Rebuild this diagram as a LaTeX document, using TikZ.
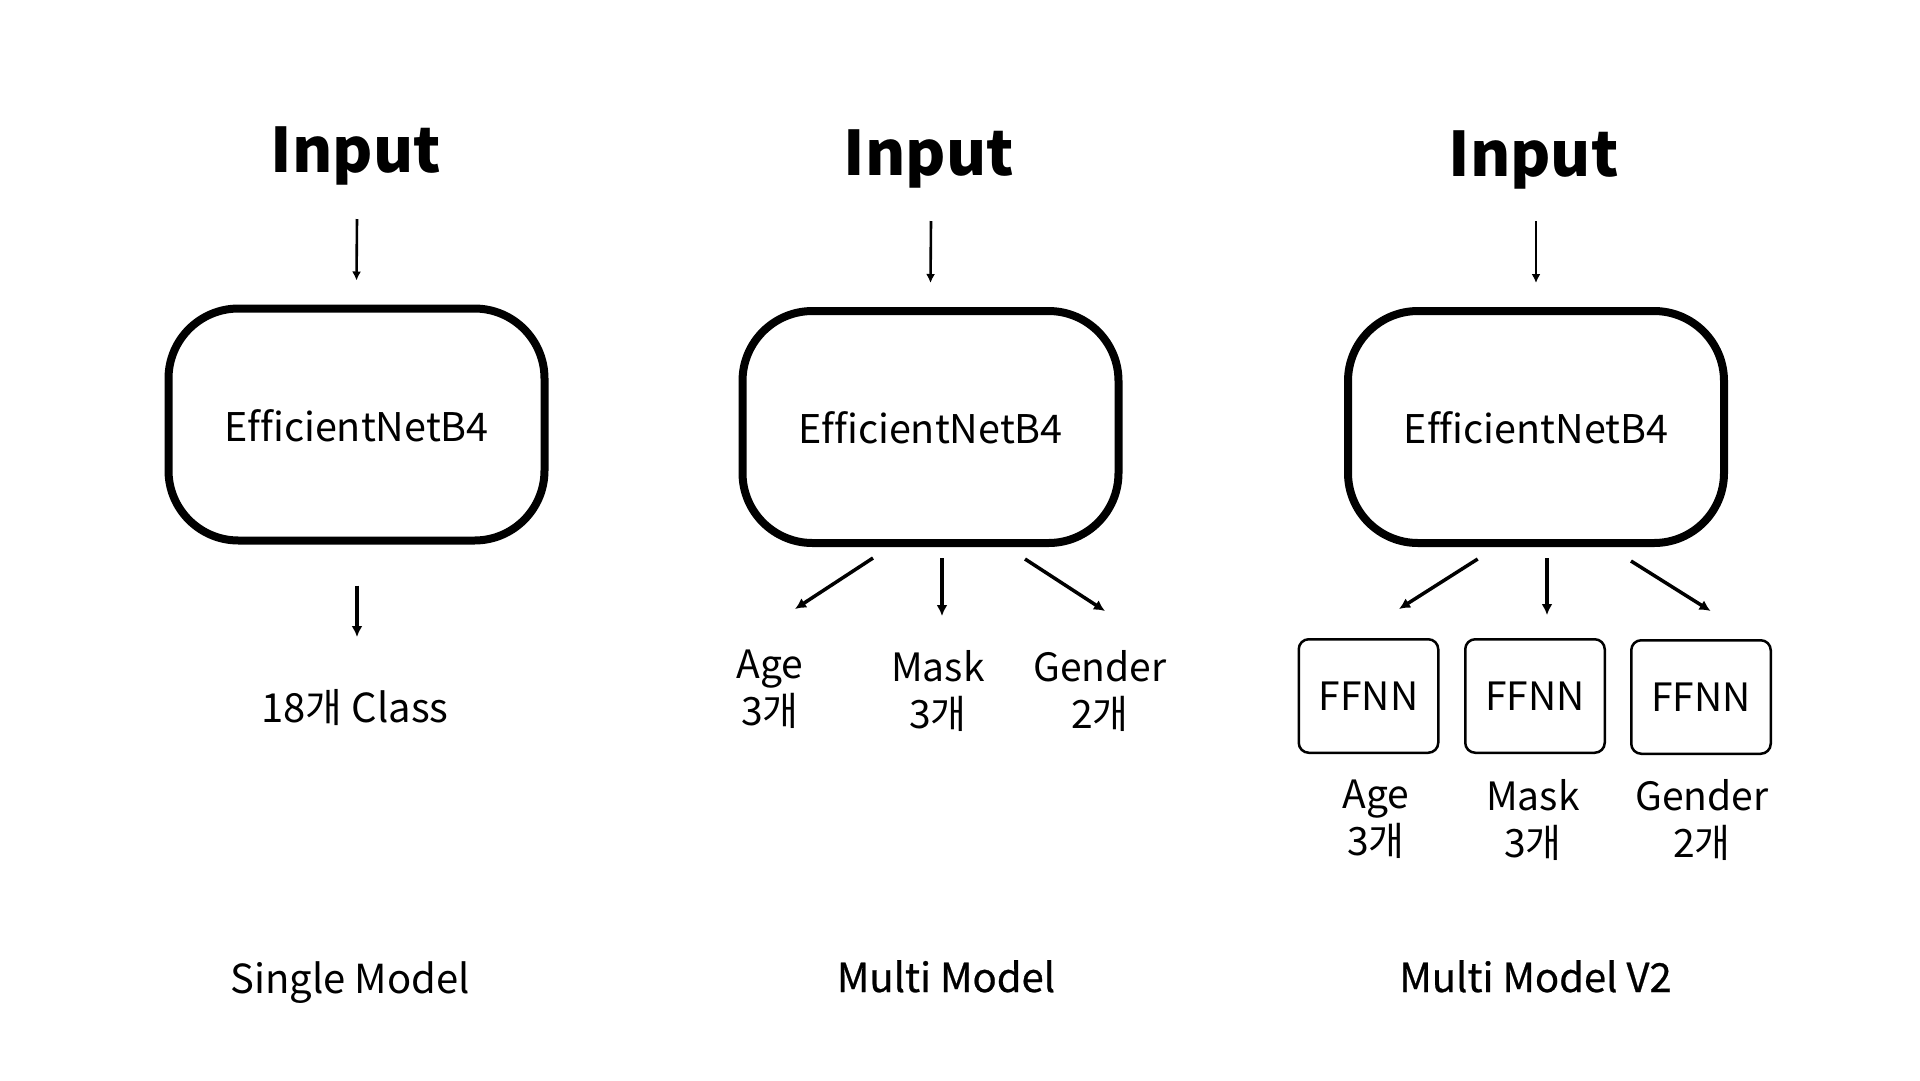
\documentclass[tikz,border=0pt]{standalone}
\usepackage{fontspec}
\setmainfont{Noto Sans CJK KR}[Ligatures=NoCommon]
\newfontfamily\medfont{Noto Sans CJK KR}[FakeBold=0.6,Ligatures=NoCommon]
\usetikzlibrary{arrows.meta,calc}
\tikzset{
  title/.style={anchor=base,inner sep=0pt,font=\bfseries\fontsize{61.5}{74}\selectfont},
  netbox/.style={draw,line width=8pt,rounded corners=70pt,minimum width=376pt,minimum height=232pt,
    inner sep=0pt,text height=33pt,text depth=0pt,font=\fontsize{39.5}{47}\selectfont},
  ffnnbox/.style={draw,line width=2.5pt,rounded corners=10pt,minimum width=139.5pt,minimum height=113.5pt,
    inner sep=0pt,text height=29pt,text depth=0pt,font=\fontsize{39}{47}\selectfont},
  lbl/.style={anchor=base,inner sep=0pt,align=center,font=\fontsize{39}{47}\selectfont},
  clslbl/.style={anchor=base,inner sep=0pt,font=\fontsize{40}{48}\selectfont},
  bottomlbl/.style={anchor=base,inner sep=0pt,font=\fontsize{40}{48}\selectfont},
  bottommed/.style={anchor=base,inner sep=0pt,font=\medfont\fontsize{40}{48}\selectfont},
  thinarr/.style={line width=2.6pt,-{Latex[length=9pt,width=9pt]}},
  thickarr/.style={line width=3.5pt,-{Latex[length=11pt,width=11pt]}}
}
\begin{document}
\begin{tikzpicture}[x=1pt,y=-1pt]
\useasboundingbox[fill=white] (0,0) rectangle (1920,1080);

% ---------- Single Model ----------
\node[title] (in1) at (356,172) {Input};
\node[netbox] (box1) at (356.5,424.5) {EfficientNetB4};
\node[clslbl] (cls) at (355,722) {18개 Class};
\node[bottomlbl] (m1) at (350,993) {Single Model};
\draw[thinarr] ($(in1.base)+(1,47)$) -- ($(box1.north)+(0,-24)$);
\draw[thickarr] ($(box1.south)+(0.5,41)$) -- ($(cls.base)+(2,-85)$);

% ---------- Multi Model ----------
\node[title] (in2) at (929,175) {Input};
\node[netbox] (box2) at (930.5,427) {EfficientNetB4};
\node[lbl] (age2) at (770,725) {Age\\3개};
\node[lbl] (mask2) at (938,728) {Mask\\3개};
\node[lbl] (gen2) at (1100,728) {Gender\\2개};
\node[bottommed] (m2) at (946,992) {Multi Model};
\draw[thinarr] ($(in2.base)+(2,46)$) -- ($(box2.north)+(0,-24)$);
\draw[thickarr] ($(box2.south)+(-57.5,11)$) -- ($(age2.base)+(25,-116)$);
\draw[thickarr] ($(box2.south)+(11.5,11)$) -- ($(mask2.base)+(4,-112)$);
\draw[thickarr] ($(box2.south)+(94.5,12)$) -- ($(gen2.base)+(5,-117)$);

% ---------- Multi Model V2 ----------
\node[title] (in3) at (1533.5,176) {Input};
\node[netbox] (box3) at (1536,427) {EfficientNetB4};
\node[ffnnbox] (f1) at (1368.5,696) {FFNN};
\node[ffnnbox] (f2) at (1535,696) {FFNN};
\node[ffnnbox] (f3) at (1701,697) {FFNN};
\node[lbl] (age3) at (1376,855) {Age\\3개};
\node[lbl] (mask3) at (1533,857) {Mask\\3개};
\node[lbl] (gen3) at (1702,857) {Gender\\2개};
\node[bottommed] (m3) at (1535.5,992) {Multi Model V2};
\draw[thinarr] ($(in3.base)+(2.5,45)$) -- ($(box3.north)+(0,-24)$);
\draw[thickarr] ($(box3.south)+(-58.3,12)$) -- ($(f1.north)+(30.5,-29)$);
\draw[thickarr] ($(box3.south)+(11,11)$) -- ($(f2.north)+(12,-23)$);
\draw[thickarr] ($(box3.south)+(95,14)$) -- ($(f3.north)+(9.6,-28)$);
\end{tikzpicture}
\end{document}
